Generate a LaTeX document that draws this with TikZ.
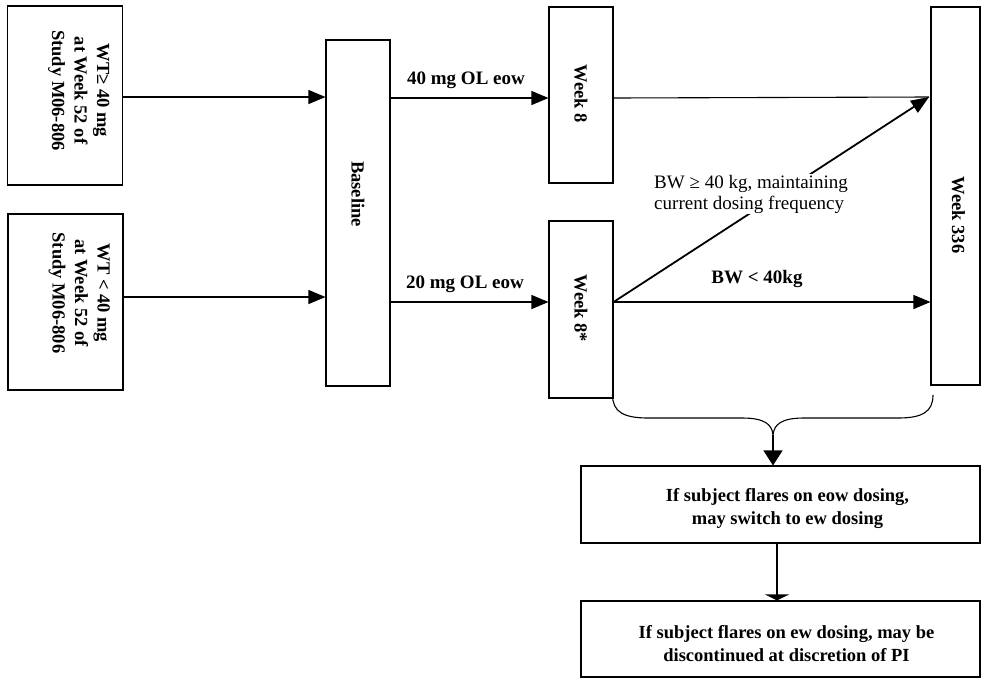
\documentclass[tikz,border=0pt]{standalone}
\usepackage{fontspec}
\setmainfont{Liberation Serif}
\usetikzlibrary{arrows.meta,calc}
\begin{document}
\begin{tikzpicture}[x=1pt,y=-1pt,
  box/.style={draw, line width=1.1pt, inner sep=0pt},
  btxt/.style={inner sep=0pt, align=center, font=\bfseries\fontsize{18.5}{22.5}\selectfont},
  lbl/.style={inner sep=1pt, font=\bfseries\fontsize{19}{19}\selectfont},
  conn/.style={line width=1.1pt},
  arr/.style={line width=1.1pt, -{Triangle[length=17pt,width=14pt]}}]
\useasboundingbox (0,0) rectangle (984,678);
% boxes
\node[box, minimum width=115pt, minimum height=179pt] (A) at (65,95.5) {};
\node[box, minimum width=115pt, minimum height=176pt] (B) at (65.5,302) {};
\node[box, minimum width=64pt, minimum height=346pt] (Base) at (358,213) {};
\node[box, minimum width=64pt, minimum height=176pt] (W8) at (581,95) {};
\node[box, minimum width=64pt, minimum height=177pt] (W8s) at (581,309.5) {};
\node[box, minimum width=49pt, minimum height=378pt] (W336) at (955.5,196) {};
\node[box, minimum width=399pt, minimum height=77pt] (C) at (780.5,504.5) {};
\node[box, minimum width=399pt, minimum height=76pt] (D) at (780.5,639) {};
% box texts
\node[btxt] (At) at ($(A)+(14,-5)$)
  {\rotatebox{-90}{\begin{tabular}{@{}c@{}}WT≥ 40 mg\\ at Week 52 of\\ Study M06-806\end{tabular}}};
\node[btxt] (Bt) at ($(B)+(14,-9)$)
  {\rotatebox{-90}{\begin{tabular}{@{}c@{}}WT < 40 mg\\ at Week 52 of\\ Study M06-806\end{tabular}}};
\node[btxt] (Baset) at ($(Base)+(0,-19)$) {\rotatebox{-90}{Baseline}};
\node[btxt] (W8t) at ($(W8)+(0,-1)$) {\rotatebox{-90}{Week 8}};
\node[btxt] (W8st) at ($(W8s)+(0,-1)$) {\rotatebox{-90}{Week 8*}};
\node[btxt] (W336t) at ($(W336)+(3,19)$) {\rotatebox{-90}{Week 336}};
\node[btxt, font=\bfseries\fontsize{18.5}{23}\selectfont] (Ct) at ($(C)+(7,4)$)
  {If subject flares on eow dosing,\\ may switch to ew dosing};
\node[btxt, font=\bfseries\fontsize{18.5}{23}\selectfont] (Dt) at ($(D)+(6,5)$)
  {If subject flares on ew dosing, may be\\ discontinued at discretion of PI};
% helper coordinates
\coordinate (ya) at (0,97);
\coordinate (yb) at (0,297);
\coordinate (y8) at (0,98);
\coordinate (y8s) at (0,302);
\coordinate (tip) at (929,97);
\coordinate (bl) at (612.5,395);
\coordinate (br) at (933,395);
\coordinate (bm) at (773,435);
% arrows into baseline
\draw[arr] (A.east |- ya) -- (Base.west |- ya);
\draw[arr] (B.east |- yb) -- (Base.west |- yb);
% baseline to week 8
\draw[arr] (Base.east |- y8) -- (W8.west |- y8);
\draw[arr] (Base.east |- y8s) -- (W8s.west |- y8s);
% week 8 to week 336
\draw[conn] (W8.east |- y8) -- (tip);
\draw[line width=1.8pt, -{Triangle[length=18pt,width=14pt]}] (W8s.east |- y8s) -- (tip);
\draw[arr] (W8s.east |- y8s) -- (W336.west |- y8s);
% labels
\node[lbl] (l40) at (466,80) {40 mg OL eow};
\node[lbl] (l20) at (465,284) {20 mg OL eow};
\node[lbl] (lbw) at (757,279) {BW < 40kg};
\node[inner sep=1pt, fill=white, align=left, font=\fontsize{19}{21}\selectfont] (lge) at (751,194)
  {BW ≥ 40 kg, maintaining\\ current dosing frequency};
% brace
\draw[conn] (bl) .. controls (612.5,412) and (624,418) .. (648,418) -- (742,418)
  .. controls (764,418) and (772,424) .. (bm)
  .. controls (774,424) and (782,418) .. (804,418) -- (898,418)
  .. controls (922,418) and (933,412) .. (br);
\draw[conn, -{Triangle[length=15pt,width=19pt]}] (bm) -- (bm |- C.north);
\draw[conn, -{Triangle[length=6pt,width=24pt]}] (777,0 |- C.south) -- (777,0 |- D.north);
\end{tikzpicture}
\end{document}
